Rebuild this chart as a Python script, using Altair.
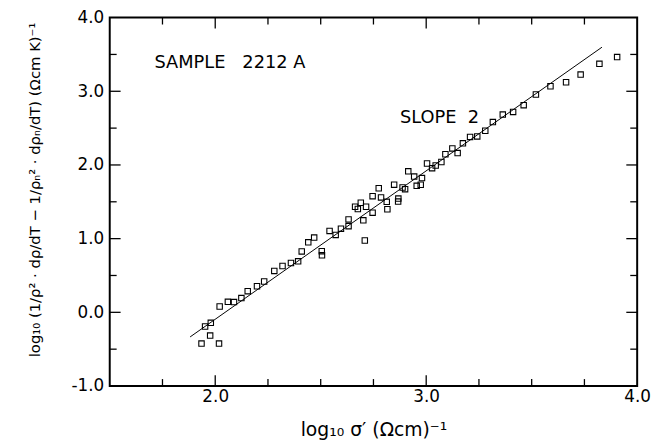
import altair as alt
import pandas as pd

# ---- data ----
sigma_log = [1.935, 2.018, 1.976, 1.952, 1.979, 2.021, 2.060, 2.089, 2.124, 2.154,
             2.198, 2.232, 2.280, 2.319, 2.359, 2.393, 2.410, 2.441, 2.469, 2.505,
             2.506, 2.542, 2.571, 2.596, 2.632, 2.632, 2.663, 2.676, 2.690, 2.702,
             2.715, 2.709, 2.746, 2.746, 2.775, 2.786, 2.813, 2.816, 2.848, 2.868,
             2.867, 2.888, 2.900, 2.915, 2.943, 2.955, 2.974, 2.980, 3.004, 3.028,
             3.045, 3.072, 3.091, 3.124, 3.149, 3.174, 3.208, 3.242, 3.280, 3.316,
             3.363, 3.412, 3.462, 3.520, 3.589, 3.663, 3.732, 3.821, 3.905]
excess_log = [-0.424, -0.424, -0.316, -0.192, -0.142, 0.079, 0.143, 0.139, 0.193, 0.287,
              0.354, 0.418, 0.562, 0.629, 0.669, 0.692, 0.826, 0.950, 1.015, 0.830,
              0.773, 1.105, 1.051, 1.135, 1.261, 1.169, 1.433, 1.402, 1.487, 1.249,
              1.433, 0.975, 1.576, 1.353, 1.684, 1.560, 1.500, 1.399, 1.732, 1.544,
              1.503, 1.694, 1.672, 1.913, 1.842, 1.717, 1.731, 1.822, 2.020, 1.956,
              1.993, 2.040, 2.145, 2.224, 2.161, 2.294, 2.381, 2.387, 2.464, 2.582,
              2.684, 2.720, 2.812, 2.956, 3.068, 3.122, 3.227, 3.373, 3.464]

fit_x = [1.881, 3.833]
fit_y = [-0.334, 3.598]

NB = "\u00a0"
note_x = [1.712, 2.876]
note_y = [3.383, 2.639]
note_text = ["SAMPLE" + NB * 3 + "2212" + NB + "A", "SLOPE" + NB * 2 + "2"]

x_major = [2.0, 3.0]
x_minor = [1.75, 2.25, 2.5, 2.75, 3.25, 3.5, 3.75]
y_major = [0.0, 1.0, 2.0, 3.0]
y_minor = [-0.5, 0.5, 1.5, 2.5, 3.5]
x_labels = [2.0, 3.0, 4.0]
y_labels = [-1.0, 0.0, 1.0, 2.0, 3.0, 4.0]

X_DOM = [1.5, 4.0]
Y_DOM = [-1.0, 4.0]

# ---- layout / style ----
W, H = 534, 373
MAJOR, MINOR = 11, 7
FONT = "DejaVu Sans"

y_title = "log₁₀ (1/ρ² · dρ/dT − 1/ρₙ² · dρₙ/dT) (Ωcm K)⁻¹"
x_title = "log₁₀ σ′ (Ωcm)⁻¹"

xs = alt.Scale(domain=X_DOM, nice=False, zero=False)
ys = alt.Scale(domain=Y_DOM, nice=False, zero=False)

xaxis = alt.Axis(values=x_labels, format=".1f", ticks=False, tickSize=0, domain=False,
                 grid=False, labelFlush=False, labelPadding=3, labelFont=FONT,
                 labelFontSize=17, labelColor="black",
                 title=x_title, titleFont=FONT, titleFontSize=19,
                 titleFontWeight="normal", titleColor="black",
                 titleX=W / 2, titleY=50, titleAlign="center", titleBaseline="alphabetic")
yaxis = alt.Axis(values=y_labels, ticks=False, tickSize=0, domain=False, grid=False,
                 labelFlush=False, labelPadding=6, labelFont=FONT, labelFontSize=17,
                 labelColor="black",
                 labelExpr="datum.value < 0 ? '-' + format(-datum.value, '.1f') : format(datum.value, '.1f')",
                 title=y_title, titleFont=FONT, titleFontSize=15,
                 titleFontWeight="normal", titleColor="black",
                 titleAngle=270, titleAlign="center", titleBaseline="middle",
                 titleX=-76, titleY=174)


def X():
    return alt.X("x:Q", scale=xs, axis=xaxis)


def Y():
    return alt.Y("y:Q", scale=ys, axis=yaxis)


pts = pd.DataFrame({"x": sigma_log, "y": excess_log})
fit = pd.DataFrame({"x": fit_x, "y": fit_y})
notes = pd.DataFrame({"x": note_x, "y": note_y, "label": note_text})

points = alt.Chart(pts).mark_point(shape="square", filled=False, size=30,
                                   strokeWidth=1.1, color="black", opacity=1).encode(x=X(), y=Y())
line = alt.Chart(fit).mark_line(color="black", strokeWidth=1).encode(x=X(), y=Y())
text = alt.Chart(notes).mark_text(font=FONT, fontSize=18, align="left", baseline="middle",
                                  color="black").encode(x=X(), y=Y(), text="label:N")

y_per_px = (Y_DOM[1] - Y_DOM[0]) / H
x_per_px = (X_DOM[1] - X_DOM[0]) / W

# inward tick marks on all four sides, each drawn as a short two-point line
rows = []
tid = 0
for vals, length in [(x_major, MAJOR), (x_minor, MINOR)]:
    dy = length * y_per_px
    for v in vals:
        for base, sign in [(Y_DOM[0], 1), (Y_DOM[1], -1)]:
            rows.append({"id": tid, "x": v, "y": base})
            rows.append({"id": tid, "x": v, "y": base + sign * dy})
            tid += 1
for vals, length in [(y_major, MAJOR), (y_minor, MINOR)]:
    dx = length * x_per_px
    for v in vals:
        for base, sign in [(X_DOM[0], 1), (X_DOM[1], -1)]:
            rows.append({"id": tid, "x": base, "y": v})
            rows.append({"id": tid, "x": base + sign * dx, "y": v})
            tid += 1
ticks_df = pd.DataFrame(rows)

ticks = alt.Chart(ticks_df).mark_line(color="black", strokeWidth=1.3).encode(
    x=X(), y=Y(), detail="id:N")

chart = alt.layer(ticks, line, points, text).properties(
    width=W, height=H,
    autosize=alt.AutoSizeParams(type="none"),
    padding={"left": 103, "top": 7, "right": 14, "bottom": 56},
    background="white",
).configure_view(stroke="black", strokeWidth=2)

chart.save("out.html", embed_options={"renderer": "svg", "actions": False})
